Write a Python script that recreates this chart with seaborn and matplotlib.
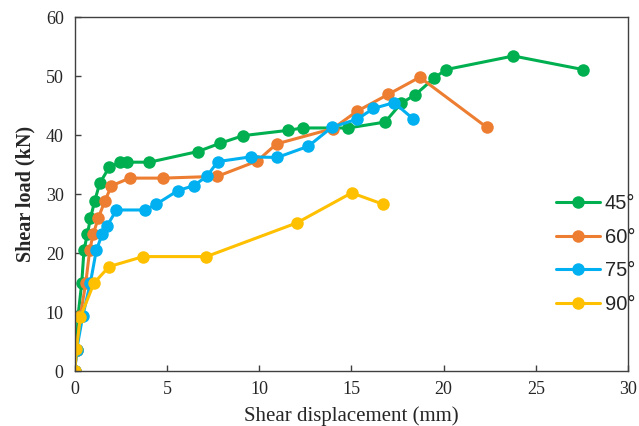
import pandas as pd
import numpy as np
import matplotlib
matplotlib.use("Agg")
import matplotlib.pyplot as plt
import seaborn as sns

# data
x_45 = [0, 0.1, 0.18, 0.38, 0.5, 0.69, 0.85, 1.08, 1.35, 1.86, 2.45, 2.82, 4.05,
        6.67, 7.87, 9.13, 11.57, 12.35, 14.83, 16.82, 17.7, 18.45, 19.5, 20.13, 23.78, 27.55]
y_45 = [0, 3.6, 9.4, 15.0, 20.5, 23.3, 25.9, 28.8, 31.8, 34.5, 35.4, 35.4, 35.4,
        37.2, 38.6, 39.9, 40.8, 41.2, 41.2, 42.2, 45.4, 46.8, 49.7, 51.1, 53.4, 51.1]

x_60 = [0, 0.1, 0.3, 0.6, 0.81, 1.0, 1.27, 1.63, 1.99, 2.98, 4.79, 7.73, 9.89,
        10.94, 14.0, 15.28, 17.0, 18.7, 22.34]
y_60 = [0, 3.6, 9.3, 15.0, 20.5, 23.2, 25.9, 28.8, 31.4, 32.7, 32.7, 33.0, 35.6,
        38.5, 41.1, 44.0, 46.9, 49.8, 41.3]

x_75 = [0, 0.1, 0.43, 0.85, 1.17, 1.5, 1.75, 2.26, 3.8, 4.43, 5.6, 6.44, 7.16,
        7.75, 9.53, 10.98, 12.66, 13.93, 15.32, 16.19, 17.31, 18.36]
y_75 = [0, 3.6, 9.3, 15.0, 20.5, 23.3, 24.6, 27.3, 27.3, 28.3, 30.6, 31.4, 33.0,
        35.5, 36.3, 36.2, 38.1, 41.3, 42.7, 44.5, 45.5, 42.7]

x_90 = [0, 0.09, 0.31, 1.04, 1.86, 3.71, 7.14, 12.03, 15.01, 16.69]
y_90 = [0, 3.7, 9.2, 14.9, 17.7, 19.4, 19.4, 25.1, 30.2, 28.3]

angles = ["45°", "60°", "75°", "90°"]
colors = ["#00B050", "#ED7D31", "#00B0F0", "#FFC000"]

frames = []
for ang, xs, ys in zip(angles, [x_45, x_60, x_75, x_90], [y_45, y_60, y_75, y_90]):
    frames.append(pd.DataFrame({"disp": xs, "load": ys, "angle": ang}))
df = pd.concat(frames, ignore_index=True)

sns.set_theme(style="white")
plt.rcParams["font.family"] = ["Liberation Serif", "DejaVu Serif"]
plt.rcParams["xtick.direction"] = "in"
plt.rcParams["ytick.direction"] = "in"

fig = plt.figure(figsize=(6.39, 4.26), dpi=100)
ax = fig.add_axes([0.117, 0.129, 0.866, 0.831])

sns.lineplot(data=df, x="disp", y="load", hue="angle", palette=colors,
             sort=False, estimator=None, marker="o", markersize=9,
             markeredgewidth=0, linewidth=2.2, ax=ax)

ax.set_xlim(0, 30)
ax.set_ylim(0, 60)
ax.set_xticks(range(0, 31, 5))
ax.set_yticks(range(0, 61, 10))
ax.tick_params(axis="both", which="both", length=4, width=1, color="#404040",
               labelsize=13, bottom=True, left=True, top=False, right=False)
ax.tick_params(axis="y", pad=8)
ax.tick_params(axis="x", pad=7)
for s in ax.spines.values():
    s.set_color("#404040")
    s.set_linewidth(1.0)

ax.set_xlabel("Shear displacement (mm)", fontsize=15, labelpad=6)
ax.set_ylabel("Shear load (kN)", fontsize=14.5, fontweight="bold", labelpad=7)

leg = ax.legend(loc="center left", bbox_to_anchor=(0.836, 0.33), frameon=False,
                handlelength=2.2, handletextpad=0.25, labelspacing=0.72,
                prop={"family": "Liberation Sans", "size": 14.5})

fig.savefig("out.png", dpi=100)
